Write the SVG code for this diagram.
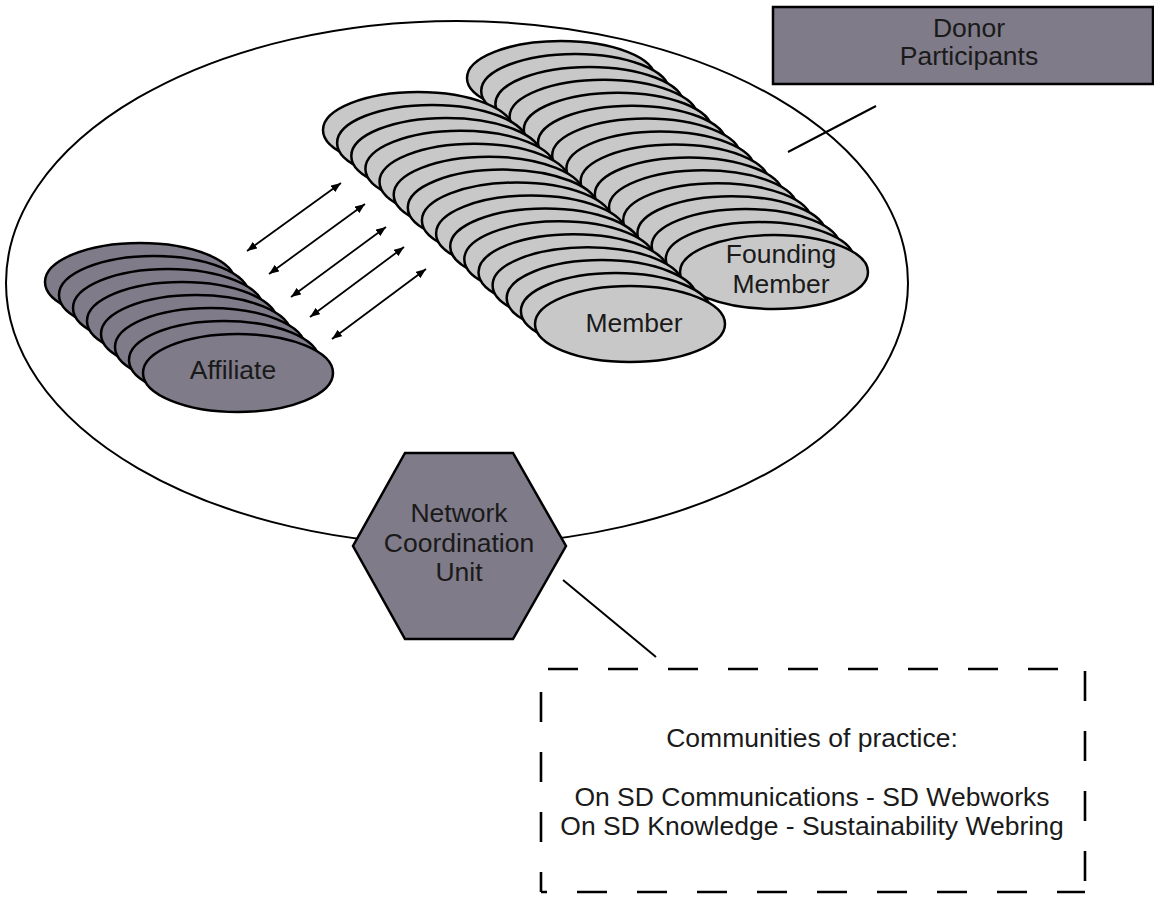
<svg xmlns="http://www.w3.org/2000/svg" width="1154" height="897" viewBox="0 0 1154 897">
<defs>
<style>
.t{font-family:"Liberation Sans",Arial,sans-serif;font-size:26.5px;fill:#1a1a1a;text-anchor:middle}
.dk{fill:#7f7b89;stroke:#000;stroke-width:2.5}
.lt{fill:#c8c8c8;stroke:#000;stroke-width:2.5}
.ln{stroke:#000;stroke-width:2;fill:none}
.ar{stroke:#000;stroke-width:1.8;fill:none;marker-start:url(#ah);marker-end:url(#ah)}
.ds{stroke:#000;stroke-width:2.6;stroke-dasharray:30 30;fill:none}
</style>
<marker id="ah" viewBox="0 0 10 8" refX="10" refY="4" markerWidth="10" markerHeight="8" markerUnits="userSpaceOnUse" orient="auto-start-reverse">
<path d="M0,0 L10,4 L0,8 Z" fill="#000"/>
</marker>
</defs>
<rect width="1154" height="897" fill="#fff"/>
<g id="network-boundary">
<ellipse cx="457" cy="283" rx="451" ry="262" fill="none" stroke="#000" stroke-width="2"/>
</g>
<g id="founding-member">
<ellipse class="lt" cx="561" cy="78" rx="94" ry="37"/>
<ellipse class="lt" cx="575.2" cy="90.9" rx="94" ry="37"/>
<ellipse class="lt" cx="589.4" cy="103.9" rx="94" ry="37"/>
<ellipse class="lt" cx="603.6" cy="116.8" rx="94" ry="37"/>
<ellipse class="lt" cx="617.8" cy="129.7" rx="94" ry="37"/>
<ellipse class="lt" cx="632" cy="142.7" rx="94" ry="37"/>
<ellipse class="lt" cx="646.2" cy="155.6" rx="94" ry="37"/>
<ellipse class="lt" cx="660.4" cy="168.5" rx="94" ry="37"/>
<ellipse class="lt" cx="674.6" cy="181.5" rx="94" ry="37"/>
<ellipse class="lt" cx="688.8" cy="194.4" rx="94" ry="37"/>
<ellipse class="lt" cx="703" cy="207.3" rx="94" ry="37"/>
<ellipse class="lt" cx="717.2" cy="220.3" rx="94" ry="37"/>
<ellipse class="lt" cx="731.4" cy="233.2" rx="94" ry="37"/>
<ellipse class="lt" cx="745.6" cy="246.1" rx="94" ry="37"/>
<ellipse class="lt" cx="759.8" cy="259.1" rx="94" ry="37"/>
<ellipse class="lt" cx="774" cy="272" rx="94" ry="37"/>
<text class="t" x="781" y="263">Founding</text>
<text class="t" x="781" y="293">Member</text>
</g>
<g id="member">
<ellipse class="lt" cx="418" cy="130" rx="95" ry="38"/>
<ellipse class="lt" cx="432.1" cy="142.9" rx="95" ry="38"/>
<ellipse class="lt" cx="446.3" cy="155.9" rx="95" ry="38"/>
<ellipse class="lt" cx="460.4" cy="168.8" rx="95" ry="38"/>
<ellipse class="lt" cx="474.5" cy="181.7" rx="95" ry="38"/>
<ellipse class="lt" cx="488.7" cy="194.7" rx="95" ry="38"/>
<ellipse class="lt" cx="502.8" cy="207.6" rx="95" ry="38"/>
<ellipse class="lt" cx="516.9" cy="220.5" rx="95" ry="38"/>
<ellipse class="lt" cx="531.1" cy="233.5" rx="95" ry="38"/>
<ellipse class="lt" cx="545.2" cy="246.4" rx="95" ry="38"/>
<ellipse class="lt" cx="559.3" cy="259.3" rx="95" ry="38"/>
<ellipse class="lt" cx="573.5" cy="272.3" rx="95" ry="38"/>
<ellipse class="lt" cx="587.6" cy="285.2" rx="95" ry="38"/>
<ellipse class="lt" cx="601.7" cy="298.1" rx="95" ry="38"/>
<ellipse class="lt" cx="615.9" cy="311.1" rx="95" ry="38"/>
<ellipse class="lt" cx="630" cy="324" rx="95" ry="38"/>
<text class="t" x="634" y="332">Member</text>
</g>
<g id="affiliate">
<ellipse class="dk" cx="140" cy="282" rx="95" ry="39"/>
<ellipse class="dk" cx="154" cy="295" rx="95" ry="39"/>
<ellipse class="dk" cx="168" cy="308" rx="95" ry="39"/>
<ellipse class="dk" cx="182" cy="321" rx="95" ry="39"/>
<ellipse class="dk" cx="196" cy="334" rx="95" ry="39"/>
<ellipse class="dk" cx="210" cy="347" rx="95" ry="39"/>
<ellipse class="dk" cx="224" cy="360" rx="95" ry="39"/>
<ellipse class="dk" cx="238" cy="373" rx="95" ry="39"/>
<text class="t" x="233" y="379">Affiliate</text>
</g>
<g id="connectors">
<line class="ar" x1="247" y1="251" x2="341" y2="183"/>
<line class="ar" x1="269" y1="274" x2="365" y2="204"/>
<line class="ar" x1="291" y1="297" x2="386" y2="227"/>
<line class="ar" x1="310" y1="317" x2="404" y2="247"/>
<line class="ar" x1="332" y1="339" x2="426" y2="269"/>
<line class="ln" x1="788" y1="152" x2="876" y2="106"/>
<line class="ln" x1="563" y1="580" x2="656" y2="657"/>
</g>
<g id="network-coordination-unit">
<polygon class="dk" points="405,453 513,453 566,546 513,639 405,639 353,546"/>
<text class="t" x="459" y="522">Network</text>
<text class="t" x="459" y="552">Coordination</text>
<text class="t" x="459" y="581">Unit</text>
</g>
<g id="donor-participants">
<rect class="dk" x="773" y="7" width="380" height="77"/>
<text class="t" x="969" y="37">Donor</text>
<text class="t" x="969" y="65">Participants</text>
</g>
<g id="communities-of-practice">
<line class="ds" x1="541" y1="669" x2="1085" y2="669" stroke-dashoffset="53"/>
<line class="ds" x1="1085" y1="669" x2="1085" y2="892" stroke-dashoffset="58"/>
<line class="ds" x1="541" y1="892" x2="1085" y2="892" stroke-dashoffset="24"/>
<line class="ds" x1="541" y1="669" x2="541" y2="892" stroke-dashoffset="37"/>
<text class="t" x="812" y="747">Communities of practice:</text>
<text class="t" x="812" y="806">On SD Communications - SD Webworks</text>
<text class="t" x="812" y="835">On SD Knowledge - Sustainability Webring</text>
</g>
</svg>
